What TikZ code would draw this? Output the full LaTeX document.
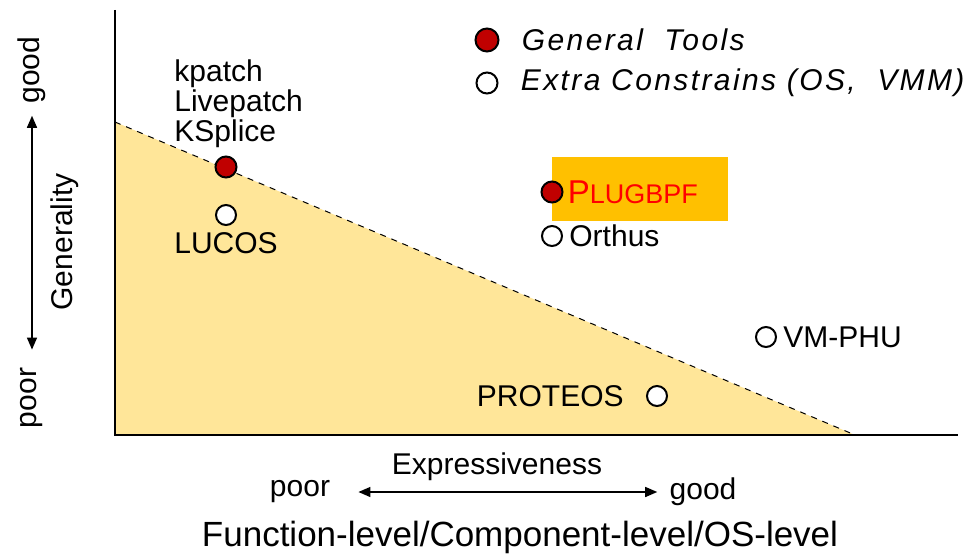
\documentclass[tikz,border=0pt]{standalone}
\usepackage{fontspec}
\setmainfont{Liberation Sans}
\newfontfamily\legendfont{Liberation Sans}[LetterSpace=8]
\usetikzlibrary{positioning, arrows.meta}

\definecolor{dotred}{HTML}{C00000}
\definecolor{hlorange}{HTML}{FFC000}
\definecolor{areayellow}{HTML}{FFE699}

\begin{document}
\begin{tikzpicture}[
    x=0.5pt, y=-0.5pt,
    lbl/.style={
        font=\fontsize{15}{15}\selectfont,
        inner sep=2pt,
    },
    dotfull/.style={circle, draw=black, line width=1pt, fill=dotred, minimum size=10.5pt, inner sep=0pt},
    dotopen/.style={dotfull, fill=white, minimum size=10pt},
    axis/.style={line width=1.4pt},
    arr/.style={{Triangle[length=6pt,width=5pt]}-{Triangle[length=6pt,width=5pt]}, line width=0.7pt},
    hlbox/.style={rectangle, fill=hlorange, minimum width=88pt, minimum height=32pt, inner sep=0pt}
]
\useasboundingbox (0,0) rectangle (979,556);

% Area and axes
\coordinate (top) at (115,10);
\coordinate (origin) at (115,435);
\coordinate (right) at (958,435);
\coordinate (slopetop) at (115,122);
\coordinate (slopetip) at (855,435);
\fill[areayellow] (slopetop) -- (slopetip) -- (origin) -- cycle;
\draw[dashed, line width=0.5pt] (slopetop) -- (slopetip);
\draw[axis] (top) -- (origin) -- (right);

% Legend
\node[dotfull, minimum size=11.5pt] (leggen) at (487,40) {};
\node[dotopen, minimum size=10.5pt] (legext) at (487,83) {};
\node[lbl, right=9pt of leggen] (leggentxt) {\legendfont\itshape General \ Tools};
\node[lbl, right=9pt of legext] (legexttxt) {\legendfont\itshape Extra Constrains (OS, \ VMM)};

% Tools
\node[dotfull] (kpatchdot) at (226,167) {};
\node[lbl, align=left, anchor=south west] (kpatch) at (170,152) {kpatch\\Livepatch\\KSplice};
\node[dotopen] (lucosdot) at (226,215) {};
\node[lbl, below=1pt of lucosdot] (lucos) {LUCOS};

\node[hlbox] (hl) at (640,189) {};
\node[dotfull] (plugdot) at (552,192) {};
\node[lbl, right=0pt of plugdot, text=red] (plug) {{\fontsize{16.5}{16}\selectfont P}{\fontsize{13.5}{13}\selectfont LUGBPF}};
\node[dotopen] (orthusdot) at (552,236) {};
\node[lbl, right=1pt of orthusdot] (orthus) {Orthus};

\node[dotopen] (vmphudot) at (766,337) {};
\node[lbl, right=1pt of vmphudot] (vmphu) {VM-PHU};

\node[dotopen] (proteosdot) at (657,396) {};
\node[lbl, left=9pt of proteosdot] (proteos) {PROTEOS};

% Generality axis
\node[lbl, rotate=90] (ygood) at (32,70) {good};
\node[lbl, rotate=90] (ypoor) at (32,398) {poor};
\node[lbl, rotate=90] (ylabel) at (65,242) {Generality};
\draw[arr, shorten <=4pt, shorten >=7pt] (ygood) -- (ypoor);

% Expressiveness axis
\node[lbl] (xlabel) at (497,467) {Expressiveness};
\node[lbl] (xpoor) at (300,492) {poor};
\node[lbl] (xgood) at (703,492) {good};
\draw[arr, shorten <=12pt, shorten >=4pt] (xpoor) -- (xgood);
\node[lbl, font=\fontsize{17.5}{17}\selectfont] (levels) at (520,537) {Function-level/Component-level/OS-level};

\end{tikzpicture}
\end{document}
